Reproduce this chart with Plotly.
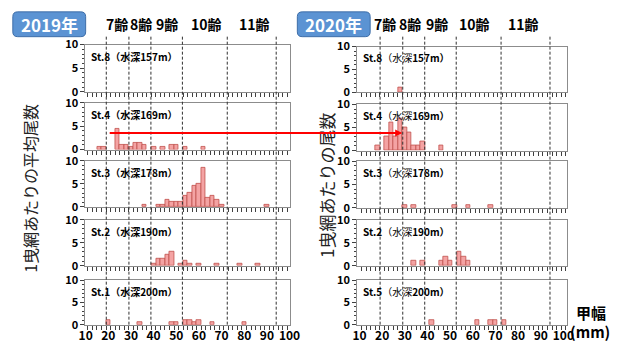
import plotly.graph_objects as go

W, H = 621, 352

# ---- data: mean catch per tow by carapace-width class (2 mm classes, class centre in mm) ----
st8_2019_x = []
st8_2019_y = []
st4_2019_x = [16, 18, 24, 26, 28, 30, 32, 34, 36, 40, 44, 48, 50, 54, 62]
st4_2019_y = [0.5, 0.5, 4.5, 1, 1, 0.5, 1.5, 1.5, 1, 0.5, 0.5, 1, 1, 0.5, 0.5]
st3_2019_x = [36, 42, 44, 46, 48, 50, 52, 54, 56, 58, 60, 62, 64, 66, 68, 70, 90]
st3_2019_y = [0.5, 0.5, 0.5, 1.5, 1, 1, 1, 2.5, 3, 4.5, 5, 8.5, 2, 2.5, 1.5, 0.5, 0.5]
st2_2019_x = [40, 42, 44, 46, 48, 52, 54, 56, 60, 68, 78, 86]
st2_2019_y = [0.5, 1.5, 1.5, 2.5, 3, 0.5, 1, 0.5, 0.5, 0.5, 0.5, 0.5]
st1_2019_x = [20, 34, 48, 50, 54, 56, 58, 60, 66, 80]
st1_2019_y = [1, 0.5, 0.5, 0.5, 1, 1, 0.5, 1, 0.5, 0.5]

st8_2020_x = [28]
st8_2020_y = [1]
st4_2020_x = [18, 22, 24, 26, 28, 30, 32, 34, 36, 38, 46]
st4_2020_y = [1, 3, 6, 3, 7, 5, 4, 1, 1, 2, 1]
st3_2020_x = [30, 34, 52, 58, 68]
st3_2020_y = [0.5, 0.5, 0.5, 0.5, 0.5]
st2_2020_x = [34, 38, 46, 48, 50, 54, 56, 58]
st2_2020_y = [1, 1, 1, 2, 1, 3, 2, 1]
st5_2020_x = [42, 62, 68, 70, 74]
st5_2020_y = [1, 1, 1, 1, 1]

labels_2019 = [("St.8", "157m"), ("St.4", "169m"), ("St.3", "178m"), ("St.2", "190m"), ("St.1", "200m")]
labels_2020 = [("St.8", "157m"), ("St.4", "169m"), ("St.3", "178m"), ("St.2", "190m"), ("St.5", "200m")]

# age boundaries (carapace width, mm) and age names
age_bounds = [19.1, 29.1, 38.8, 52.7, 72.5, 94.1]
age_names = ["7齢", "8齢", "9齢", "10齢", "11齢"]

x_ticks = [10, 20, 30, 40, 50, 60, 70, 80, 90, 100]
y_ticks = [0, 5, 10]

series_2019 = [(st8_2019_x, st8_2019_y), (st4_2019_x, st4_2019_y), (st3_2019_x, st3_2019_y),
               (st2_2019_x, st2_2019_y), (st1_2019_x, st1_2019_y)]
series_2020 = [(st8_2020_x, st8_2020_y), (st4_2020_x, st4_2020_y), (st3_2020_x, st3_2020_y),
               (st2_2020_x, st2_2020_y), (st5_2020_x, st5_2020_y)]

# ---- layout geometry (pixels) ----
def fx(p):
    return p / W


def fy(p):
    return 1 - p / H


FONT = "Noto Sans CJK JP, Noto Sans, sans-serif"
BAR_FILL = "#F4A3A3"
BAR_LINE = "#C0504D"
FRAME = "#8C8C8C"

cols = [
    dict(x0=80.7, x1=291.0, rng=[9.87, 100.0], label_x=84,
         rows=[(37.3, 86.7), (98.3, 147.3), (159.0, 207.3), (220.7, 269.0), (284.0, 330.7)]),
    dict(x0=360.7, x1=576.7, rng=[9.01, 101.6], label_x=365,
         rows=[(39.3, 87.3), (100.0, 148.3), (159.3, 208.3), (220.7, 269.0), (284.0, 330.7)]),
]

fig = go.Figure()
layout = dict(
    width=W, height=H, autosize=False,
    margin=dict(l=0, r=0, t=0, b=0),
    paper_bgcolor="white", plot_bgcolor="white",
    showlegend=False, bargap=0,
    font=dict(family=FONT, color="black"),
)
annotations = []
shapes = []

for c, (col, series, labels) in enumerate(zip(cols, [series_2019, series_2020], [labels_2019, labels_2020])):
    for r, (top, bot) in enumerate(col["rows"]):
        i = c * 5 + r + 1
        xs, ys = series[r]
        fig.add_trace(go.Bar(
            x=xs, y=ys, width=2,
            marker=dict(color=BAR_FILL, line=dict(color=BAR_LINE, width=0.8)),
            xaxis=f"x{i}", yaxis=f"y{i}", hoverinfo="x+y",
        ))
        bottom_row = (r == 4)
        layout[f"xaxis{i}"] = dict(
            domain=[fx(col["x0"]), fx(col["x1"])], range=col["rng"], anchor=f"y{i}",
            showgrid=False, zeroline=False, showline=True, mirror=True,
            linecolor=FRAME, linewidth=1,
            tickmode="array", tickvals=x_ticks, ticks="",
            showticklabels=bottom_row,
            tickfont=dict(size=12, family=FONT, weight="bold"),
            minor=dict(tickmode="array", tickvals=list(range(9, 102, 2)),
                       ticks="outside", ticklen=4, tickcolor="#404040", tickwidth=1),
        )
        layout[f"yaxis{i}"] = dict(
            domain=[fy(bot), fy(top)], range=[0, 10], anchor=f"x{i}",
            showgrid=False, zeroline=False, showline=True, mirror=True,
            linecolor=FRAME, linewidth=1,
            tickmode="array", tickvals=y_ticks, ticks="outside", ticklen=4,
            tickcolor="#404040",
            tickfont=dict(size=11, family=FONT, weight="bold"),
            minor=dict(dtick=1, ticks="outside", ticklen=2, tickcolor="#404040"),
        )
        st, depth = labels[r]
        if c == 0:
            txt = f"<b>{st}（水深{depth}）</b>"
        else:
            txt = f"<b>{st}</b>（水深<b>{depth}）</b>"
        annotations.append(dict(
            text=txt, xref="paper", yref="paper",
            x=fx(col["label_x"]), y=fy(top + 12), xanchor="left", yanchor="middle",
            showarrow=False, font=dict(size=10, family=FONT, color="black"),
        ))

    # age boundary lines running through all panels of the column
    xref = f"x{c * 5 + 5}"
    for b in age_bounds:
        shapes.append(dict(
            type="line", xref=xref, yref="paper", x0=b, x1=b,
            y0=fy(col["rows"][4][1]), y1=fy(27),
            line=dict(color="#303030", width=1, dash="3px,2px"), layer="above",
        ))

# age labels above the columns
age_px = [[113.3, 138.0, 165.0, 205.0, 254.7], [389.5, 415.0, 443.0, 481.7, 532.0]]
for row in age_px:
    for name, px in zip(age_names, row):
        annotations.append(dict(
            text=f"<b>{name}</b>", xref="paper", yref="paper", x=fx(px), y=fy(16),
            xanchor="center", yanchor="middle", showarrow=False,
            font=dict(size=14, family=FONT, color="black"),
        ))


def rounded_rect(x0, y0, x1, y1, rad):
    def P(a, b):
        return f"{fx(a):.5f},{fy(b):.5f}"
    return " ".join([
        f"M {P(x0 + rad, y0)}",
        f"L {P(x1 - rad, y0)}",
        f"Q {P(x1, y0)} {P(x1, y0 + rad)}",
        f"L {P(x1, y1 - rad)}",
        f"Q {P(x1, y1)} {P(x1 - rad, y1)}",
        f"L {P(x0 + rad, y1)}",
        f"Q {P(x0, y1)} {P(x0, y1 - rad)}",
        f"L {P(x0, y0 + rad)}",
        f"Q {P(x0, y0)} {P(x0 + rad, y0)} Z",
    ])


# year badges
for (bx0, bx1), year in [((6, 81), "2019年"), ((299, 374), "2020年")]:
    shapes.append(dict(
        type="path", xref="paper", yref="paper",
        path=rounded_rect(bx0, 3, bx1, 29, 5),
        fillcolor="#5B93D3", line=dict(color="#3E6EA8", width=1), layer="above",
    ))
    annotations.append(dict(
        text=f"<b>{year}</b>", xref="paper", yref="paper",
        x=fx((bx0 + bx1) / 2), y=fy(16), xanchor="center", yanchor="middle",
        showarrow=False, font=dict(size=17, family=FONT, color="white"),
    ))

# axis titles
annotations.append(dict(
    text="1曳網あたりの平均尾数", xref="paper", yref="paper", x=fx(24), y=fy(188),
    xanchor="center", yanchor="middle", textangle=-90, showarrow=False,
    font=dict(size=16, family=FONT, color="#222222"),
))
annotations.append(dict(
    text="1曳網あたりの尾数", xref="paper", yref="paper", x=fx(329), y=fy(185),
    xanchor="center", yanchor="middle", textangle=-90, showarrow=False,
    font=dict(size=17, family=FONT, color="#222222"),
))
annotations.append(dict(
    text="<b>甲幅</b>", xref="paper", yref="paper", x=fx(601), y=fy(318),
    xanchor="center", yanchor="middle", showarrow=False,
    font=dict(size=15, family=FONT, color="black"),
))
annotations.append(dict(
    text="<b>(mm)</b>", xref="paper", yref="paper", x=fx(600), y=fy(338),
    xanchor="center", yanchor="middle", showarrow=False,
    font=dict(size=15, family=FONT, color="black"),
))

# arrow linking the 2019 St.4 peak with 2020 St.4
annotations.append(dict(
    text="", xref="paper", yref="paper", x=fx(407), y=fy(130),
    ax=-(407 - 113), ay=0, axref="pixel", ayref="pixel",
    showarrow=True, arrowhead=2, arrowsize=0.7, arrowwidth=2, arrowcolor="#FF0000",
))

layout["annotations"] = annotations
layout["shapes"] = shapes
fig.update_layout(**layout)
fig.write_html("out.html")
